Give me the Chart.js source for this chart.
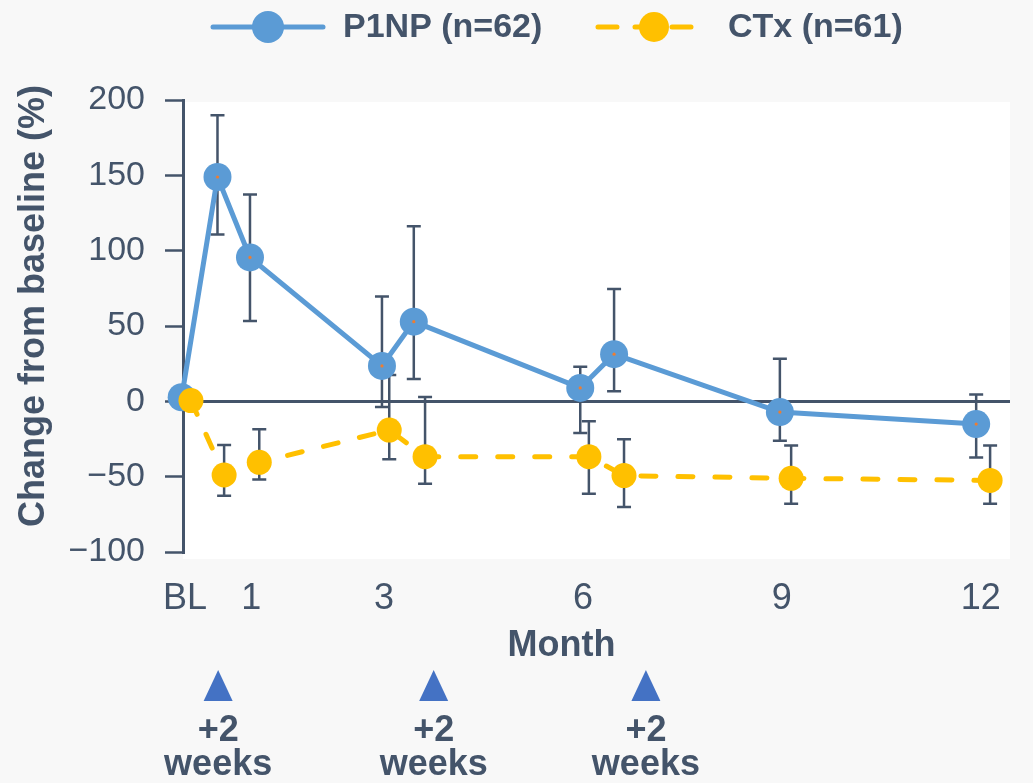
<!DOCTYPE html>
<html>
<head>
<meta charset="utf-8">
<script src="https://cdn.jsdelivr.net/npm/chart.js@4.4.1/dist/chart.umd.min.js"></script>
<style>
  html, body { margin: 0; padding: 0; background: #f8f8f8; overflow: hidden; }
  canvas { display: block; }
</style>
</head>
<body>
<canvas id="chart" width="1033" height="783"></canvas>
<script>
// values
const p1npMonths = [-0.05, 0.49, 0.98, 2.97, 3.45, 5.96, 6.47, 8.97, 11.93];
const p1npValues = [2.7, 148.9, 95.5, 23.5, 52.9, 8.9, 31.3, -7.1, -15.1];
const p1npHigh = [null, 189.8, 137.3, 69.5, 116.2, 22.9, 74.5, 28.2, 4.5];
const p1npLow = [null, 110.7, 53.3, -3.8, 14.9, -21.1, 6.7, -26.2, -37.3];

const ctxMonths = [0.09, 0.59, 1.12, 3.08, 3.62, 6.09, 6.62, 9.14, 12.14];
const ctxValues = [0.5, -48.9, -40.5, -19.1, -36.7, -36.7, -49.3, -51.1, -52.5];
const ctxHigh = [null, -28.9, -18.5, 17.5, 2.9, -13.3, -25.1, -29.3, -29.3];
const ctxLow = [null, -62.7, -51.8, -38.5, -54.7, -61.3, -70.2, -68, -68];

const xTicks = [0, 1, 3, 6, 9, 12];
const xTickLabels = ['BL', '1', '3', '6', '9', '12'];
const yTitle = 'Change from baseline (%)';
const xTitle = 'Month';
const doseMonths = [0.5, 3.75, 6.95];
const doseLabel = ['+2', 'weeks'];

const TEXT = '#44546A';
const BLUE = '#5B9BD5';
const GOLD = '#FFC000';
const FONT = '"Liberation Sans", Arial, sans-serif';

const errorBars = [
  { high: p1npHigh, low: p1npLow },
  { high: ctxHigh, low: ctxLow }
];

function toPoints(xs, ys) {
  return xs.map((x, i) => ({ x: x, y: ys[i] }));
}

const plotBackground = {
  id: 'plotBackground',
  beforeDraw(chart) {
    const { ctx, chartArea: a } = chart;
    ctx.save();
    ctx.fillStyle = '#f8f8f8';
    ctx.fillRect(0, 0, chart.width, chart.height);
    ctx.fillStyle = '#ffffff';
    ctx.fillRect(a.left, a.top + 2, a.right - a.left, a.bottom - a.top + 5);
    ctx.restore();
  }
};

const errorBarPlugin = {
  id: 'errorBars',
  beforeDatasetsDraw(chart) {
    const { ctx } = chart;
    const y = chart.scales.y;
    ctx.save();
    ctx.strokeStyle = TEXT;
    ctx.lineWidth = 2.5;
    errorBars.forEach((eb, di) => {
      const meta = chart.getDatasetMeta(di);
      meta.data.forEach((pt, j) => {
        if (eb.high[j] == null) return;
        const top = y.getPixelForValue(eb.high[j]);
        const bot = y.getPixelForValue(eb.low[j]);
        ctx.beginPath();
        ctx.moveTo(pt.x, top); ctx.lineTo(pt.x, bot);
        ctx.moveTo(pt.x - 7, top); ctx.lineTo(pt.x + 7, top);
        ctx.moveTo(pt.x - 7, bot); ctx.lineTo(pt.x + 7, bot);
        ctx.stroke();
      });
    });
    ctx.restore();
  },
  afterDatasetDraw(chart, args) {
    if (args.index !== 0) return;
    const { ctx } = chart;
    ctx.save();
    ctx.fillStyle = '#ED7D31';
    args.meta.data.forEach((pt, j) => {
      if (j === 0) return;
      ctx.beginPath();
      ctx.arc(pt.x, pt.y, 1.6, 0, Math.PI * 2);
      ctx.fill();
    });
    ctx.restore();
  }
};

const legendPlugin = {
  id: 'lineLegend',
  afterDraw(chart) {
    const { ctx } = chart;
    const slots = [
      { x0: 213, x1: 323, cx: 268, r: 16, tx: 343 },
      { x0: 598, x1: 697, cx: 654, r: 15, tx: 728 }
    ];
    const cy = 27;
    ctx.save();
    chart.data.datasets.forEach((ds, i) => {
      const s = slots[i];
      ctx.strokeStyle = ds.borderColor;
      ctx.fillStyle = ds.borderColor;
      ctx.lineWidth = 5;
      ctx.lineCap = 'round';
      ctx.setLineDash(ds.borderDash ? [19, 18] : []);
      ctx.beginPath();
      ctx.moveTo(s.x0, cy); ctx.lineTo(s.x1, cy);
      ctx.stroke();
      ctx.setLineDash([]);
      ctx.beginPath();
      ctx.arc(s.cx, cy, s.r, 0, Math.PI * 2);
      ctx.fill();
      ctx.fillStyle = TEXT;
      ctx.font = 'bold 34px ' + FONT;
      ctx.textBaseline = 'middle';
      ctx.textAlign = 'left';
      ctx.fillText(ds.label, s.tx, cy + 1);
    });
    ctx.restore();
  }
};

const dosePlugin = {
  id: 'doseMarks',
  afterDraw(chart) {
    const { ctx } = chart;
    const xs = chart.scales.x;
    const base = xs.bottom;
    ctx.save();
    doseMonths.forEach(m => {
      const px = xs.getPixelForValue(m);
      ctx.fillStyle = '#4472C4';
      ctx.beginPath();
      ctx.moveTo(px, base + 2);
      ctx.lineTo(px - 14.5, base + 33);
      ctx.lineTo(px + 14.5, base + 33);
      ctx.closePath();
      ctx.fill();
      ctx.fillStyle = TEXT;
      ctx.font = 'bold 36px ' + FONT;
      ctx.textAlign = 'center';
      ctx.textBaseline = 'middle';
      ctx.fillText(doseLabel[0], px, base + 63);
      ctx.fillText(doseLabel[1], px, base + 97);
    });
    ctx.restore();
  }
};

new Chart(document.getElementById('chart'), {
  type: 'line',
  data: {
    datasets: [
      {
        label: 'P1NP (n=62)',
        data: toPoints(p1npMonths, p1npValues),
        borderColor: BLUE,
        backgroundColor: BLUE,
        borderWidth: 5,
        pointRadius: 14,
        pointBorderWidth: 0,
        pointBackgroundColor: BLUE,
        fill: false,
        clip: false,
        order: 2
      },
      {
        label: 'CTx (n=61)',
        data: toPoints(ctxMonths, ctxValues),
        borderColor: GOLD,
        backgroundColor: GOLD,
        borderWidth: 5,
        borderDash: [15, 22],
        borderCapStyle: 'round',
        pointRadius: 12.5,
        pointBorderWidth: 0,
        pointBackgroundColor: GOLD,
        fill: false,
        clip: false,
        order: 1
      }
    ]
  },
  options: {
    responsive: false,
    animation: false,
    layout: { padding: { top: 100, right: 23, bottom: 115, left: 0 } },
    plugins: {
      legend: { display: false },
      tooltip: { enabled: false }
    },
    scales: {
      x: {
        type: 'linear',
        min: -0.03,
        max: 12.44,
        afterBuildTicks: scale => { scale.ticks = xTicks.map(v => ({ value: v })); },
        afterFit: scale => { scale.height = 116; },
        grid: { display: false, drawTicks: false },
        border: { display: false },
        ticks: {
          autoSkip: false,
          maxRotation: 0,
          padding: 25,
          color: TEXT,
          font: { family: FONT, size: 36 },
          callback: (v, i) => xTickLabels[i]
        },
        title: {
          display: true,
          text: xTitle + '       ',
          color: TEXT,
          font: { family: FONT, size: 36, weight: 'bold' },
          padding: { top: 0, bottom: 0 }
        }
      },
      y: {
        min: -100,
        max: 200,
        afterFit: scale => { scale.width = 183; },
        grid: {
          color: c => (c.tick && c.tick.value === 0 ? TEXT : 'rgba(0,0,0,0)'),
          lineWidth: 3,
          tickColor: TEXT,
          tickWidth: 2.5,
          tickLength: 18
        },
        border: { display: true, color: TEXT, width: 3 },
        ticks: {
          stepSize: 50,
          padding: 20,
          color: TEXT,
          font: { family: FONT, size: 34 },
          callback: v => (v < 0 ? '\u2212' + Math.abs(v) : String(v))
        },
        title: {
          display: true,
          text: '    ' + yTitle,
          color: TEXT,
          font: { family: FONT, size: 36, weight: 'bold' },
          padding: { top: 12, bottom: 0 }
        }
      }
    }
  },
  plugins: [plotBackground, errorBarPlugin, legendPlugin, dosePlugin]
});
</script>
</body>
</html>
